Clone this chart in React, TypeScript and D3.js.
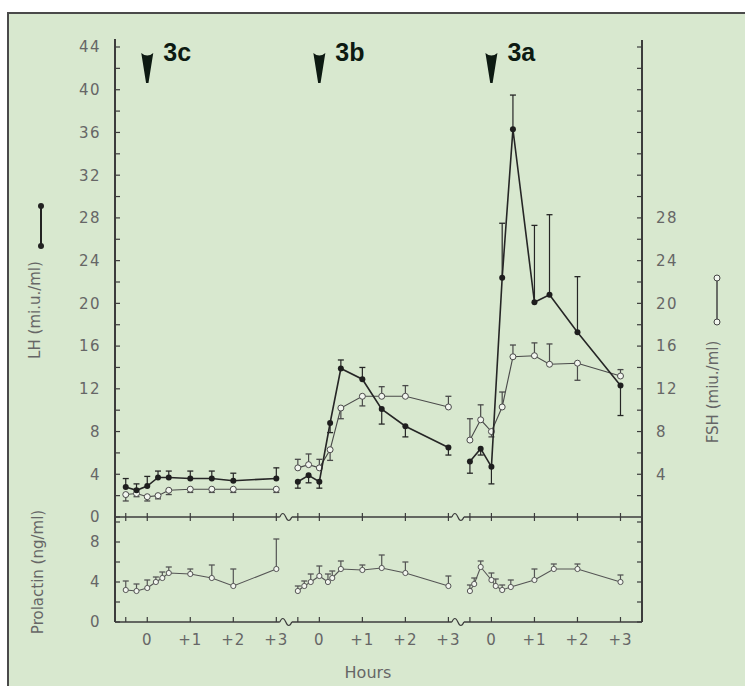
import React from "react";
import * as d3 from "d3";

// ---------- DATA ----------
const segmentNames = ["3c", "3b", "3a"];
const segmentOffsets = [0, 4, 8];
const hourTicks = [-0.5, 0, 1, 2, 3];
const hourTickLabels = ["", "0", "+1", "+2", "+3"];

const lhTicks = [0, 4, 8, 12, 16, 20, 24, 28, 32, 36, 40, 44];
const fshTicks = [4, 8, 12, 16, 20, 24, 28];
const prlTicks = [0, 4, 8];

// LH / FSH sampling times (hours) per segment
const gonTimes3c = [-0.5, -0.25, 0, 0.25, 0.5, 1, 1.5, 2, 3];
const gonTimes3b = [-0.5, -0.25, 0, 0.25, 0.5, 1, 1.45, 2, 3];
const gonTimes3a = [-0.5, -0.25, 0, 0.25, 0.5, 1, 1.35, 2, 3];

const lh3c = [2.8, 2.5, 2.9, 3.7, 3.7, 3.6, 3.6, 3.4, 3.6];
const lhErr3c = [0.8, 0.6, 0.9, 0.6, 0.6, 0.7, 0.7, 0.7, 1.0];
const lh3b = [3.3, 3.9, 3.3, 8.8, 13.9, 12.9, 10.1, 8.5, 6.5];
const lhErr3b = [-0.6, -0.7, -0.6, -0.9, 0.8, 1.1, -1.4, -1.0, -0.7];
const lh3a = [5.2, 6.4, 4.7, 22.4, 36.3, 20.1, 20.8, 17.3, 12.3];
const lhErr3a = [-1.1, -0.6, -1.6, 5.1, 3.2, 7.2, 7.5, 5.2, -2.8];

const fsh3c = [2.1, 2.2, 1.9, 2.0, 2.5, 2.6, 2.6, 2.6, 2.6];
const fshErr3c = [-0.6, -0.3, -0.4, -0.3, -0.4, -0.3, -0.3, -0.3, -0.3];
const fsh3b = [4.6, 4.9, 4.6, 6.3, 10.2, 11.3, 11.3, 11.3, 10.3];
const fshErr3b = [0.8, 1.0, 0.8, -1.0, -1.0, -0.9, 0.9, 1.0, 1.0];
const fsh3a = [7.2, 9.1, 8.0, 10.3, 15.0, 15.1, 14.3, 14.4, 13.2];
const fshErr3a = [2.0, 1.4, -0.5, 1.4, 1.1, 1.2, 1.9, -1.6, 0.6];

// Prolactin sampling times per segment
const prlTimes3c = [-0.5, -0.25, 0, 0.2, 0.35, 0.5, 1, 1.5, 2, 3];
const prlTimes3b = [-0.5, -0.35, -0.2, 0, 0.2, 0.3, 0.5, 1, 1.45, 2, 3];
const prlTimes3a = [-0.5, -0.4, -0.25, 0, 0.1, 0.25, 0.45, 1, 1.45, 2, 3];

const prl3c = [3.2, 3.1, 3.4, 4.0, 4.4, 4.9, 4.8, 4.4, 3.6, 5.3];
const prlErr3c = [0.9, 0.7, 0.8, 0.5, 0.6, 0.6, 0.5, 1.3, 1.7, 3.0];
const prl3b = [3.1, 3.6, 4.0, 4.6, 4.0, 4.4, 5.3, 5.2, 5.4, 4.9, 3.6];
const prlErr3b = [0.5, 0.5, 0.8, 1.0, 0.8, 0.7, 0.8, 0.5, 1.3, 1.1, 1.0];
const prl3a = [3.1, 3.8, 5.5, 4.2, 3.6, 3.2, 3.5, 4.2, 5.3, 5.3, 4.0];
const prlErr3a = [0.6, 0.6, 0.6, 0.7, 0.7, 0.5, 0.7, 1.1, 0.5, 0.5, 0.7];

const gonTimes = [gonTimes3c, gonTimes3b, gonTimes3a];
const lhVals = [lh3c, lh3b, lh3a];
const lhErrs = [lhErr3c, lhErr3b, lhErr3a];
const fshVals = [fsh3c, fsh3b, fsh3a];
const fshErrs = [fshErr3c, fshErr3b, fshErr3a];
const prlTimes = [prlTimes3c, prlTimes3b, prlTimes3a];
const prlVals = [prl3c, prl3b, prl3a];
const prlErrs = [prlErr3c, prlErr3b, prlErr3a];

// ---------- LAYOUT ----------
const W = 745;
const H = 686;
const BG = "#d8e8cf";
const AXIS = "#3c3c3c";
const LABEL = "#666";
const FONT = "'DejaVu Sans', 'Liberation Sans', Arial, sans-serif";

const x = d3.scaleLinear().domain([-0.75, 11.5]).range([115, 642]);
const yLH = d3.scaleLinear().domain([0, 44]).range([517, 47]);
const yFSH = d3.scaleLinear().domain([0, 44]).range([517, 47]);
const yPRL = d3.scaleLinear().domain([0, 8]).range([622, 542]);

const lineGen = d3.line<[number, number]>().x((d) => d[0]).y((d) => d[1]);

function Series({
  times, vals, errs, yScale, offset, kind,
}: {
  times: number[]; vals: number[]; errs: number[]; yScale: d3.ScaleLinear<number, number>;
  offset: number; kind: "lh" | "fsh" | "prl";
}) {
  const pts: [number, number][] = times.map((t, i) => [x(offset + t), yScale(vals[i])]);
  const stroke = kind === "lh" ? "#262626" : kind === "fsh" ? "#4a4a4a" : "#555";
  const sw = kind === "lh" ? 1.6 : 1.1;
  const r = kind === "prl" ? 2.6 : 3;
  return (
    <g>
      <path d={lineGen(pts) || ""} fill="none" stroke={stroke} strokeWidth={sw} />
      {pts.map((p, i) => {
        const yE = yScale(vals[i] + errs[i]);
        return (
          <g key={"e" + i}>
            <line x1={p[0]} x2={p[0]} y1={p[1]} y2={yE} stroke={stroke} strokeWidth={1.2} />
            <line x1={p[0] - 3} x2={p[0] + 3} y1={yE} y2={yE} stroke={stroke} strokeWidth={1.3} />
          </g>
        );
      })}
      {pts.map((p, i) =>
        kind === "lh" ? (
          <circle key={"m" + i} cx={p[0]} cy={p[1]} r={r} fill="#1e1e1e" />
        ) : (
          <circle key={"m" + i} cx={p[0]} cy={p[1]} r={r} fill="#f2f6ef" stroke={stroke} strokeWidth={1} />
        )
      )}
    </g>
  );
}

function Baseline({ y, up, down }: { y: number; up: number; down: number }) {
  // baseline with breaks between segments
  const breaks = [0, 1].map((k) => x(segmentOffsets[k] + 3.22));
  const xs = [115, ...breaks.flatMap((b) => [b - 6, b + 6]), 642];
  const parts: JSX.Element[] = [];
  for (let i = 0; i < xs.length; i += 2) {
    parts.push(<line key={"b" + i} x1={xs[i]} x2={xs[i + 1]} y1={y} y2={y} stroke={AXIS} strokeWidth={1.6} />);
  }
  breaks.forEach((b, i) => {
    parts.push(
      <path key={"s" + i} d={`M${b - 6},${y} Q${b - 3},${y - 7} ${b},${y} Q${b + 3},${y + 7} ${b + 6},${y}`}
        fill="none" stroke={AXIS} strokeWidth={1.2} />
    );
  });
  segmentOffsets.forEach((off, k) =>
    hourTicks.forEach((t, j) =>
      parts.push(
        <line key={`t${k}-${j}`} x1={x(off + t)} x2={x(off + t)} y1={y - up} y2={y + down} stroke={AXIS} strokeWidth={1.2} />
      )
    )
  );
  return <g>{parts}</g>;
}

export default function App() {
  const lhMinor = d3.range(0, 45, 2);
  const prlMinor = d3.range(0, 11, 2);
  return (
    <div style={{ position: "absolute", left: 0, top: 0 }}>
      <svg width={W} height={H} style={{ display: "block", background: "#fff" }}>
        <rect x={8} y={13} width={800} height={800} fill={BG} stroke="#4a4a4a" strokeWidth={2} />

        {/* Left axis */}
        <line x1={115} x2={115} y1={39} y2={622} stroke={AXIS} strokeWidth={2} />
        {/* Right axis */}
        <line x1={642} x2={642} y1={40} y2={622} stroke={AXIS} strokeWidth={2} />

        {lhMinor.map((v) => (
          <line key={"lt" + v} x1={115} x2={120} y1={yLH(v)} y2={yLH(v)} stroke={AXIS} strokeWidth={1.2} />
        ))}
        {lhMinor.filter((v) => v > 0).map((v) => (
          <line key={"rt" + v} x1={637} x2={642} y1={yFSH(v)} y2={yFSH(v)} stroke={AXIS} strokeWidth={1.2} />
        ))}
        {prlMinor.map((v) => (
          <g key={"pt" + v}>
            <line x1={115} x2={120} y1={yPRL(v)} y2={yPRL(v)} stroke={AXIS} strokeWidth={1.2} />
            <line x1={637} x2={642} y1={yPRL(v)} y2={yPRL(v)} stroke={AXIS} strokeWidth={1.2} />
          </g>
        ))}

        {lhTicks.map((v) => (
          <text key={"ll" + v} x={101} y={yLH(v)} dy="0.36em" textAnchor="end" fontFamily={FONT}
            fontSize={15} fill={LABEL} letterSpacing={1.5}>{v}</text>
        ))}
        {fshTicks.map((v) => (
          <text key={"fl" + v} x={656} y={yFSH(v)} dy="0.36em" textAnchor="start" fontFamily={FONT}
            fontSize={15} fill={LABEL} letterSpacing={1.5}>{v}</text>
        ))}
        {prlTicks.map((v) => (
          <text key={"pl" + v} x={101} y={yPRL(v)} dy="0.36em" textAnchor="end" fontFamily={FONT}
            fontSize={15} fill={LABEL} letterSpacing={1.5}>{v}</text>
        ))}

        <Baseline y={517} up={4} down={4} />
        <Baseline y={622} up={5} down={0} />

        {segmentOffsets.map((off, k) =>
          hourTicks.map((t, j) =>
            hourTickLabels[j] ? (
              <text key={`xl${k}-${j}`} x={x(off + t)} y={640} dy="0.36em" textAnchor="middle"
                fontFamily={FONT} fontSize={15} fill={LABEL} letterSpacing={1}>{hourTickLabels[j]}</text>
            ) : null
          )
        )}
        <text x={368} y={672} dy="0.36em" textAnchor="middle" fontFamily={FONT} fontSize={16} fill={LABEL}>Hours</text>

        {/* Axis titles */}
        <text transform="translate(35,310) rotate(-90)" textAnchor="middle" dy="0.36em" fontFamily={FONT}
          fontSize={15} fill={LABEL}>LH (mi.u./ml)</text>
        <text transform="translate(713,392) rotate(-90)" textAnchor="middle" dy="0.36em" fontFamily={FONT}
          fontSize={15} fill={LABEL}>FSH (miu./ml)</text>
        <text transform="translate(38,572) rotate(-90)" textAnchor="middle" dy="0.36em" fontFamily={FONT}
          fontSize={15} fill={LABEL}>Prolactin (ng/ml)</text>

        {/* legend symbols */}
        <line x1={41} x2={41} y1={206} y2={246} stroke="#222" strokeWidth={2} />
        <circle cx={41} cy={206} r={3} fill="#222" />
        <circle cx={41} cy={246} r={3} fill="#222" />
        <line x1={717} x2={717} y1={278} y2={322} stroke="#444" strokeWidth={1.5} />
        <circle cx={717} cy={278} r={3} fill="#f2f6ef" stroke="#444" />
        <circle cx={717} cy={322} r={3} fill="#f2f6ef" stroke="#444" />

        {/* data */}
        {segmentOffsets.map((off, k) => (
          <g key={"seg" + k}>
            <Series times={gonTimes[k]} vals={fshVals[k]} errs={fshErrs[k]} yScale={yFSH} offset={off} kind="fsh" />
            <Series times={gonTimes[k]} vals={lhVals[k]} errs={lhErrs[k]} yScale={yLH} offset={off} kind="lh" />
            <Series times={prlTimes[k]} vals={prlVals[k]} errs={prlErrs[k]} yScale={yPRL} offset={off} kind="prl" />
          </g>
        ))}

        {/* arrows and labels */}
        {segmentOffsets.map((off, k) => {
          const ax = x(off);
          return (
            <g key={"ar" + k}>
              <path d={`M${ax - 6},53 Q${ax},58 ${ax + 6},53 L${ax + 1.2},83 L${ax - 1.2},83 Z`} fill="#0d1a12" />
              <text x={ax + 16} y={61} fontFamily="'Liberation Sans', Arial, sans-serif" fontWeight="bold"
                fontSize={25} fill="#0d1a12">{segmentNames[k]}</text>
            </g>
          );
        })}
      </svg>
    </div>
  );
}
